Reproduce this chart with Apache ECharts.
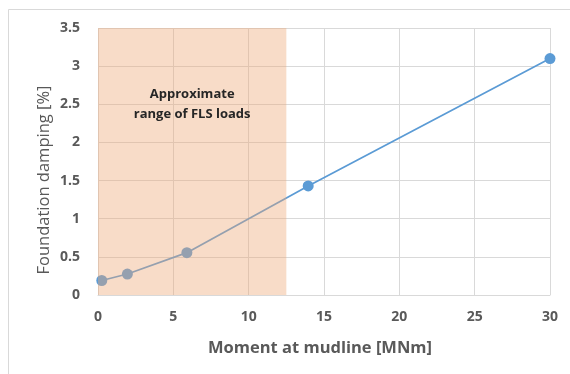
<!DOCTYPE html>
<html>
<head>
<meta charset="utf-8">
<script src="https://cdn.jsdelivr.net/npm/echarts@6/dist/echarts.min.js"></script>
<style>
  html, body { margin: 0; padding: 0; background: #ffffff; }
  #chart { width: 570px; height: 374px; }
</style>
</head>
<body>
<div id="chart"></div>
<script>
// Bending moment at mudline [MNm] and the matching foundation damping [%]
const moment = [0.25, 1.95, 5.9, 13.95, 30];
const damping = [0.19, 0.275, 0.555, 1.43, 3.10];

// Approximate span of fatigue-limit-state loads along the moment axis
const flsRange = [0, 12.5];
const flsLabel = 'Approximate\nrange of FLS loads';

const xTitle = 'Moment at mudline [MNm]';
const yTitle = 'Foundation damping [%]';

const grey = '#595959';
const font = '"Open Sans", "Liberation Sans", sans-serif';

const chart = echarts.init(document.getElementById('chart'), null, { renderer: 'canvas' });

chart.setOption({
  animation: false,
  backgroundColor: '#ffffff',
  grid: { left: 98, right: 20, top: 28, bottom: 79, containLabel: false },
  graphic: [
    {
      type: 'rect',
      shape: { x: 8.5, y: 9.5, width: 580, height: 380 },
      style: { fill: 'none', stroke: '#d9d9d9', lineWidth: 1 },
      z: 0
    },
    {
      type: 'text',
      x: 320, y: 348,
      style: {
        text: xTitle,
        align: 'center', verticalAlign: 'middle',
        font: 'bold 16.5px ' + font,
        fill: grey
      },
      z: 10
    },
    {
      type: 'text',
      rotation: Math.PI / 2,
      x: 44, y: 180,
      style: {
        text: yTitle,
        align: 'center', verticalAlign: 'middle',
        font: '16.5px ' + font,
        fill: grey
      },
      z: 10
    }
  ],
  xAxis: {
    type: 'value',
    min: 0, max: 30, interval: 5,
    axisLine: { show: true, lineStyle: { color: '#d9d9d9', width: 1 } },
    axisTick: { show: false },
    splitLine: { show: true, lineStyle: { color: '#d9d9d9', width: 1 } },
    axisLabel: {
      margin: 15,
      color: grey,
      fontFamily: font,
      fontWeight: 'bold',
      fontSize: 14
    }
  },
  yAxis: {
    type: 'value',
    min: 0, max: 3.5, interval: 0.5,
    axisLine: { show: false },
    axisTick: { show: false },
    splitLine: { show: true, lineStyle: { color: '#d9d9d9', width: 1 } },
    axisLabel: {
      margin: 18,
      color: grey,
      fontFamily: font,
      fontWeight: 'bold',
      fontSize: 14
    }
  },
  series: [
    {
      type: 'line',
      data: moment.map((m, i) => [m, damping[i]]),
      symbol: 'circle',
      symbolSize: 11,
      lineStyle: { color: '#5b9bd5', width: 1.75 },
      itemStyle: { color: '#5b9bd5' },
      z: 2
    },
    {
      // Shaded load band drawn above the curve, tinting it where they overlap
      type: 'scatter',
      data: [],
      z: 5,
      markArea: {
        silent: true,
        z: 5,
        itemStyle: { color: 'rgba(238,168,118,0.4)' },
        label: {
          show: true,
          position: 'insideTop',
          distance: 0,
          offset: [0, 56],
          formatter: flsLabel,
          color: '#262626',
          fontFamily: font,
          fontWeight: 'bold',
          fontSize: 13,
          lineHeight: 20,
          align: 'center'
        },
        data: [[
          { xAxis: flsRange[0], yAxis: 0 },
          { xAxis: flsRange[1], yAxis: 3.5 }
        ]]
      }
    }
  ]
});
</script>
</body>
</html>
